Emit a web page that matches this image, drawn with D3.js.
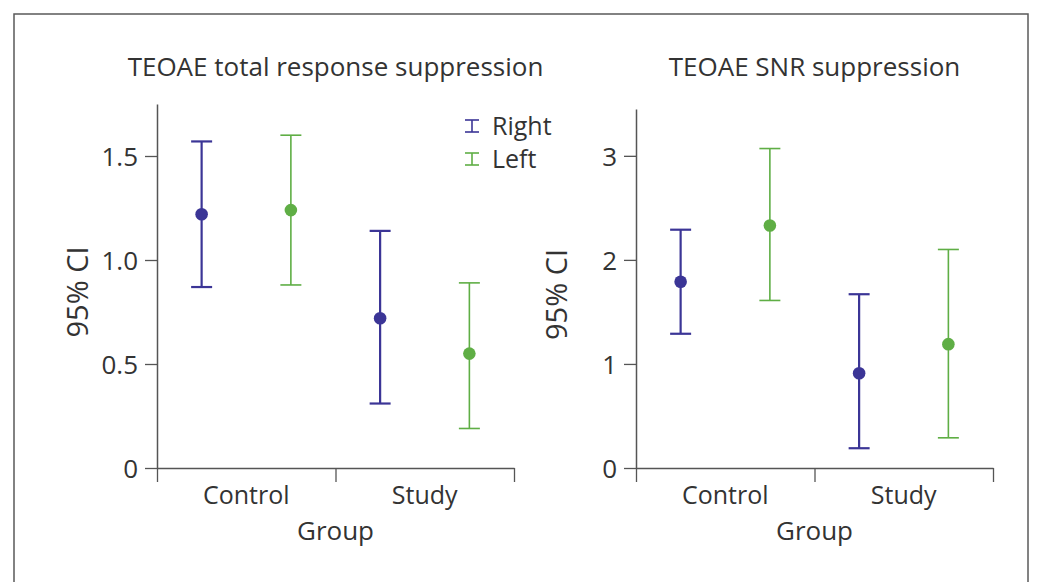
<!DOCTYPE html>
<html>
<head>
<meta charset="utf-8">
<script src="https://cdn.jsdelivr.net/npm/d3@7/dist/d3.min.js"></script>
<style>
  html, body { margin: 0; padding: 0; background: #fff; }
  svg { display: block; }
  text { font-family: "Open Sans", "Noto Sans", sans-serif; fill: #333; }
</style>
</head>
<body>
<svg id="chart" width="1041" height="582"></svg>
<script>
// Groups and ears
const groups = ["Control", "Study"];
const sides = ["Right", "Left"];
const sideColors = ["#3b3596", "#5fae45"];

// TEOAE total response suppression: mean and 95% CI bounds per ear
const totalRightMean = [1.22, 0.72];
const totalRightLow  = [0.87, 0.31];
const totalRightHigh = [1.57, 1.14];
const totalLeftMean  = [1.24, 0.55];
const totalLeftLow   = [0.88, 0.19];
const totalLeftHigh  = [1.60, 0.89];

// TEOAE SNR suppression: mean and 95% CI bounds per ear
const snrRightMean = [1.79, 0.91];
const snrRightLow  = [1.29, 0.19];
const snrRightHigh = [2.29, 1.67];
const snrLeftMean  = [2.33, 1.19];
const snrLeftLow   = [1.61, 0.29];
const snrLeftHigh  = [3.07, 2.10];

// Tick values
const totalTicks = [0, 0.5, 1.0, 1.5];
const snrTicks = [0, 1, 2, 3];

const svg = d3.select("#chart");

// Outer frame
svg.append("rect")
  .attr("x", 14).attr("y", 14)
  .attr("width", 1014).attr("height", 600)
  .attr("fill", "none").attr("stroke", "#5a5a5a").attr("stroke-width", 1.5);

function panel(opts) {
  const { x0, x1, yTop, yBottom, yMax, ticks, fmt, title, right, left, legend } = opts;
  const g = svg.append("g");

  const x = d3.scaleBand().domain(groups).range([x0, x1]);
  const xs = d3.scaleBand().domain(sides).range([0, x.bandwidth()]);
  const y = d3.scaleLinear().domain([0, yMax]).range([yBottom, yTop]);

  // y axis
  const ya = g.append("g")
    .attr("transform", `translate(${x0},0)`)
    .call(d3.axisLeft(y).tickValues(ticks).tickFormat(fmt).tickSize(12).tickSizeOuter(0).tickPadding(7));
  ya.select(".domain").attr("stroke", "#555").attr("stroke-width", 1.5);
  ya.selectAll(".tick line").attr("stroke", "#555").attr("stroke-width", 1.3);
  ya.selectAll(".tick text").style("font-size", "26px").attr("fill", "#333").attr("dy", "0.36em");

  // x axis: line with boundary ticks, category labels centered in bands
  const xb = d3.scaleLinear().domain([0, groups.length]).range([x0, x1]);
  const xa = g.append("g")
    .attr("transform", `translate(0,${yBottom})`)
    .call(d3.axisBottom(xb).ticks(groups.length).tickFormat("").tickSize(14).tickSizeOuter(0));
  xa.select(".domain").attr("stroke", "#555").attr("stroke-width", 1.5);
  xa.selectAll(".tick line").attr("stroke", "#555").attr("stroke-width", 1.3);

  const xl = g.append("g")
    .attr("transform", `translate(0,${yBottom})`)
    .call(d3.axisBottom(x).tickSize(0).tickPadding(0));
  xl.select(".domain").remove();
  xl.selectAll(".tick text").style("font-size", "25px").attr("fill", "#333")
    .attr("y", 36).attr("dy", 0);

  // axis titles
  g.append("text")
    .attr("x", (x0 + x1) / 2).attr("y", yBottom + 72)
    .attr("text-anchor", "middle").style("font-size", "26px").text("Group");
  g.append("text")
    .attr("transform", `translate(${x0 - 69},${(yTop + yBottom) / 2 + 6}) rotate(-90)`)
    .attr("text-anchor", "middle").style("font-size", "29px").text("95% CI");

  // panel title
  g.append("text")
    .attr("x", (x0 + x1) / 2).attr("y", 76)
    .attr("text-anchor", "middle").style("font-size", "26px").text(title);

  // error bars
  const series = [right, left];
  const capW = 21;
  series.forEach((s, si) => {
    const color = sideColors[si];
    const sw = si === 0 ? 2.2 : 1.6;
    groups.forEach((grp, gi) => {
      const cx = x(grp) + xs(sides[si]) + xs.bandwidth() / 2;
      const lo = y(s.low[gi]), hi = y(s.high[gi]), m = y(s.mean[gi]);
      g.append("line").attr("x1", cx).attr("x2", cx).attr("y1", lo).attr("y2", hi)
        .attr("stroke", color).attr("stroke-width", sw);
      [lo, hi].forEach(yy => {
        g.append("line").attr("x1", cx - capW / 2).attr("x2", cx + capW / 2)
          .attr("y1", yy).attr("y2", yy)
          .attr("stroke", color).attr("stroke-width", sw);
      });
      g.append("circle").attr("cx", cx).attr("cy", m).attr("r", 6.3).attr("fill", color);
    });
  });

  // legend
  if (legend) {
    sides.forEach((name, i) => {
      const ly = legend.y + i * 33;
      const lx = legend.x;
      const color = sideColors[i];
      const lg = g.append("g");
      lg.append("line").attr("x1", lx).attr("x2", lx).attr("y1", ly - 6).attr("y2", ly + 6)
        .attr("stroke", color).attr("stroke-width", 1.6);
      [ly - 6, ly + 6].forEach(yy => lg.append("line")
        .attr("x1", lx - 7).attr("x2", lx + 7).attr("y1", yy).attr("y2", yy)
        .attr("stroke", color).attr("stroke-width", 1.6));
      lg.append("text").attr("x", lx + 20).attr("y", ly).attr("dy", "0.36em")
        .style("font-size", "25px").text(name);
    });
  }
}

const fmtTotal = d => d === 0 ? "0" : d3.format(".1f")(d);

panel({
  x0: 157, x1: 514, yTop: 104, yBottom: 468, yMax: 1.75,
  ticks: totalTicks, fmt: fmtTotal,
  title: "TEOAE total response suppression",
  right: { mean: totalRightMean, low: totalRightLow, high: totalRightHigh },
  left:  { mean: totalLeftMean,  low: totalLeftLow,  high: totalLeftHigh },
  legend: { x: 472, y: 126 }
});

panel({
  x0: 636, x1: 993, yTop: 109, yBottom: 468, yMax: 3.45,
  ticks: snrTicks, fmt: d3.format("d"),
  title: "TEOAE SNR suppression",
  right: { mean: snrRightMean, low: snrRightLow, high: snrRightHigh },
  left:  { mean: snrLeftMean,  low: snrLeftLow,  high: snrLeftHigh },
  legend: null
});
</script>
</body>
</html>
